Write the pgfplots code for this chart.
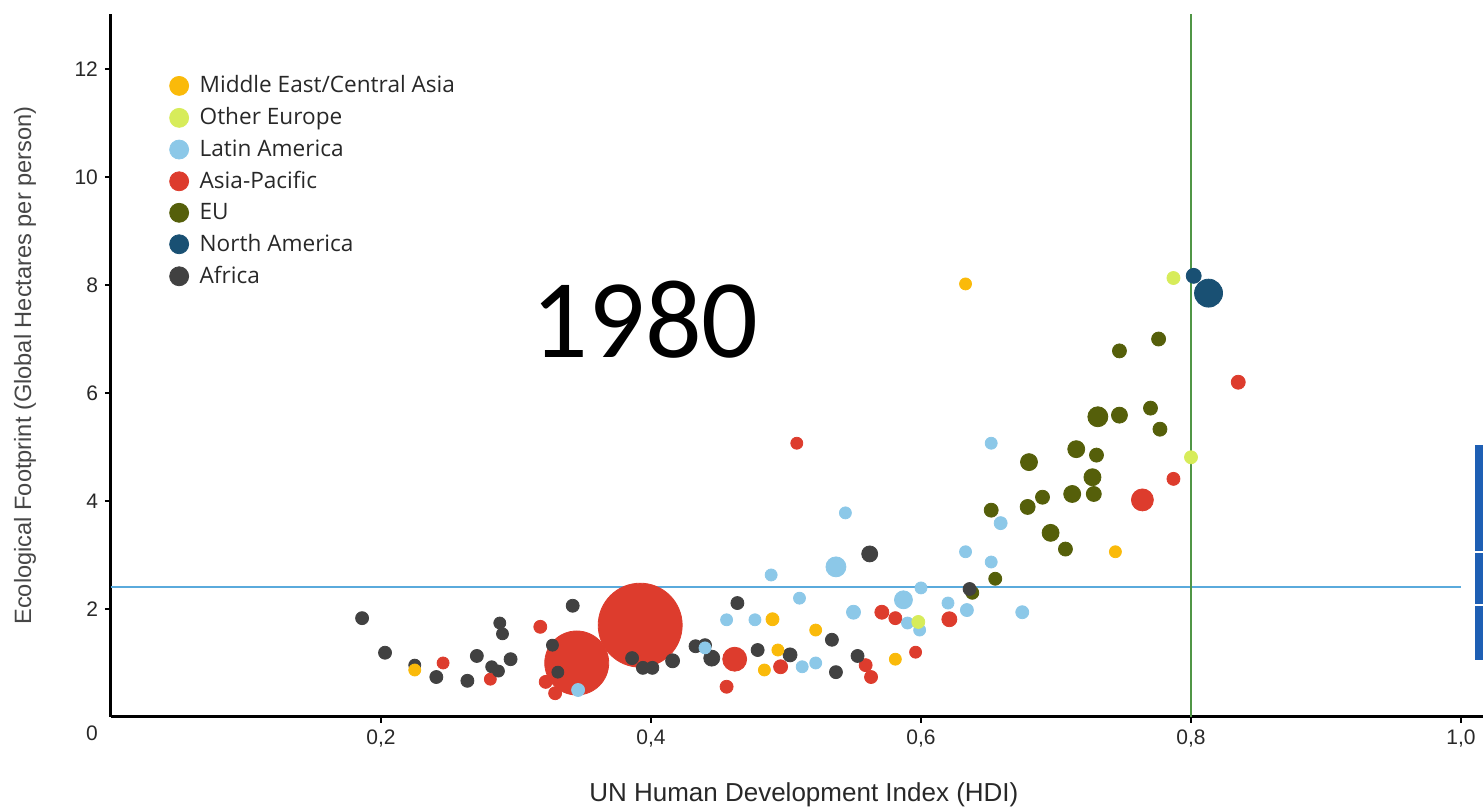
\documentclass[border=0pt]{standalone}
\usepackage{pgfplots}
\usepackage{pgfplotstable}
\pgfplotsset{compat=1.18}
\usepackage{fontspec}
\setmainfont{Liberation Sans}
\newfontfamily\legendfont{Open Sans}
\newfontfamily\yearfont{Carlito}

\definecolor{cME}{RGB}{250,186,10}
\definecolor{cOE}{RGB}{215,236,90}
\definecolor{cLA}{RGB}{140,200,232}
\definecolor{cAP}{RGB}{221,60,45}
\definecolor{cEU}{RGB}{85,95,10}
\definecolor{cNA}{RGB}{25,80,115}
\definecolor{cAF}{RGB}{65,65,65}
\definecolor{hline}{RGB}{90,170,220}
\definecolor{vline}{RGB}{80,150,70}
\definecolor{tickc}{RGB}{40,40,40}
\definecolor{labc}{RGB}{70,70,70}
\definecolor{artb}{RGB}{30,95,180}

\pgfplotstableread{
x y r
0.225 0.87 6
0.490 1.81 6.5
0.494 1.24 6
0.484 0.87 6
0.522 1.61 6
0.581 1.07 6
0.744 3.06 6
0.633 8.02 6
}\dME
\pgfplotstableread{
x y r
0.787 8.13 6.5
0.800 4.81 6.5
0.598 1.76 6.5
}\dOE
\pgfplotstableread{
x y r
0.346 0.50 6.5
0.489 2.63 6
0.537 2.78 10
0.510 2.20 6
0.456 1.80 6
0.477 1.80 6
0.440 1.28 6
0.512 0.93 6
0.522 1.00 6
0.550 1.94 7
0.587 2.17 9
0.590 1.74 6
0.599 1.61 6
0.600 2.39 6
0.620 2.11 6
0.634 1.98 6.5
0.675 1.94 6.5
0.633 3.06 6
0.652 2.87 6
0.659 3.59 6.5
0.652 5.07 6
0.544 3.78 6
}\dLA
\pgfplotstableread{
x y r
0.246 1.00 6
0.281 0.70 6
0.318 1.67 6.5
0.345 1.00 32
0.322 0.65 6.5
0.329 0.44 6.5
0.392 1.70 42
0.462 1.07 12
0.456 0.56 6.5
0.496 0.93 7
0.559 0.96 6.5
0.563 0.74 6.5
0.571 1.94 7
0.581 1.83 6.5
0.596 1.20 6
0.621 1.81 7.5
0.508 5.07 6
0.764 4.02 11
0.787 4.41 6.5
0.835 6.20 7
}\dAP
\pgfplotstableread{
x y r
0.680 4.72 8.5
0.715 4.96 8.5
0.730 4.85 7
0.727 4.44 8.5
0.728 4.13 7.5
0.712 4.13 8.5
0.690 4.07 7
0.679 3.89 7.5
0.652 3.83 7
0.696 3.41 8.5
0.707 3.11 7
0.777 5.33 7
0.731 5.56 10
0.747 5.59 8
0.770 5.72 7
0.776 7.00 7
0.747 6.78 7
0.655 2.56 6.5
0.638 2.30 6.5
}\dEU
\pgfplotstableread{
x y r
0.802 8.17 7.5
0.813 7.85 14
}\dNA
\pgfplotstableread{
x y r
0.186 1.83 6.5
0.203 1.19 6.5
0.225 0.96 6
0.241 0.74 6.5
0.264 0.67 6.5
0.271 1.13 6.5
0.288 1.74 6
0.290 1.54 6
0.282 0.93 6
0.287 0.85 6
0.296 1.07 6.5
0.342 2.06 6.5
0.327 1.33 6
0.331 0.83 6
0.386 1.09 6.5
0.394 0.91 6.5
0.401 0.91 6.5
0.416 1.04 7
0.433 1.31 6.5
0.440 1.33 6.5
0.445 1.09 8
0.464 2.11 6.5
0.479 1.24 6.5
0.503 1.15 7
0.534 1.43 6.5
0.537 0.83 6.5
0.553 1.13 6.5
0.562 3.02 8
0.636 2.37 6.5
}\dAF

\pgfplotsset{
  bub/.style={scatter, only marks, mark=*, forget plot, point meta=y,
    scatter/use mapped color={draw=#1, fill=#1},
    visualization depends on={0.5*\thisrow{r} \as \rr},
    scatter/@pre marker code/.append style={/tikz/mark size=\rr}},
  dotlegend/.style={legend image code/.code={%
    \fill[#1] (0pt,0pt) circle (4.75pt);
    \path[draw=none, fill=none] (-4.75pt,0pt) -- (8.25pt,0pt);}},
}

\begin{document}
\begin{tikzpicture}
\begin{axis}[
  scale only axis, width=686pt, height=351.5pt,
  xmin=0, xmax=1.0163, ymin=0, ymax=13.02,
  axis x line=bottom, axis y line=left,
  axis line style={-, line width=1.5pt, black},
  xtick={0.2,0.4,0.6,0.8,1.0},
  xticklabels={{0,2},{0,4},{0,6},{0,8},{1,0}},
  ytick={2,4,6,8,10,12},
  tick align=outside, major tick length=3pt,
  tick style={black, line width=1pt},
  ticklabel style={font=\fontsize{10.5}{12}\selectfont, text=tickc},
  /pgf/number format/assume math mode=true,
  xlabel={UN Human Development Index (HDI)},
  ylabel={Ecological Footprint (Global Hectares per person)},
  xlabel style={at={(rel axis cs:0.505,-0.111)}, anchor=center, font=\fontsize{13}{15}\selectfont, text=tickc},
  ylabel style={at={(rel axis cs:-0.0627,0.5)}, anchor=center, font=\fontsize{11.8}{14}\selectfont, text=labc},
  legend style={at={(rel axis cs:0.0378,0.924)}, anchor=north west, draw=none, fill=none,
    font=\legendfont\fontsize{11.3}{13}\selectfont, text=tickc, row sep=1.9pt},
  legend cell align=left,
  clip=false,
]
\addlegendimage{dotlegend=cME}
\addlegendentry{Middle East/Central Asia}
\addlegendimage{dotlegend=cOE}
\addlegendentry{Other Europe}
\addlegendimage{dotlegend=cLA}
\addlegendentry{Latin America}
\addlegendimage{dotlegend=cAP}
\addlegendentry{Asia-Pacific}
\addlegendimage{dotlegend=cEU}
\addlegendentry{EU}
\addlegendimage{dotlegend=cNA}
\addlegendentry{North America}
\addlegendimage{dotlegend=cAF}
\addlegendentry{Africa}

\addplot[forget plot, hline, line width=1pt] coordinates {(0,2.41) (1.0,2.41)};
\addplot[forget plot, vline, line width=1pt] coordinates {(0.8,0) (0.8,13.02)};

\addplot[bub=cAP] table {\dAP};
\addplot[bub=cEU] table {\dEU};
\addplot[bub=cNA] table {\dNA};
\addplot[bub=cAF] table {\dAF};
\addplot[bub=cLA] table {\dLA};
\addplot[bub=cME] table {\dME};
\addplot[bub=cOE] table {\dOE};

\node[font=\yearfont\fontsize{56}{60}\selectfont, anchor=center] at (axis cs:0.3956,7.35) {1980};
\node[font=\fontsize{10.5}{12}\selectfont, text=tickc] at (rel axis cs:-0.0138,-0.0228) {0};

\fill[artb] (axis cs:1.0104,1.06) rectangle (axis cs:1.0163,5.04);
\draw[white, line width=1pt] (axis cs:1.0104,3.06) -- (axis cs:1.0163,3.06);
\draw[white, line width=1pt] (axis cs:1.0104,2.07) -- (axis cs:1.0163,2.07);

\coordinate (bbsw) at (rel axis cs:-0.0809,-0.1309);
\coordinate (bbne) at (rel axis cs:1,1.0199);
\end{axis}
\pgfresetboundingbox
\path[use as bounding box] (bbsw) rectangle (bbne);
\end{tikzpicture}
\end{document}
